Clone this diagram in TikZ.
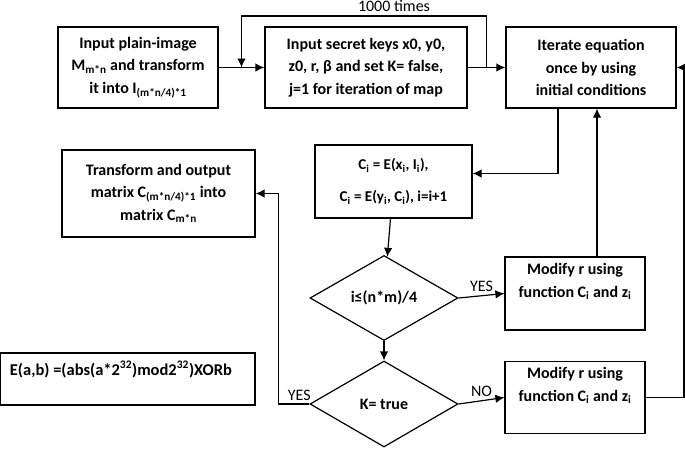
\documentclass[tikz,border=0pt]{standalone}
\usepackage{fontspec}
\setmainfont{Carlito}
\usepackage{tikz}
\usetikzlibrary{calc,arrows.meta,shapes.geometric}

\begin{document}
\begin{tikzpicture}[x=1pt,y=-1pt,
  procbox/.style={draw,line width=1.2pt,align=center,inner sep=2pt,
    font=\fontsize{16}{22.5}\selectfont\bfseries},
  decision/.style={draw,diamond,line width=1.2pt,inner sep=0pt,align=center,
    font=\fontsize{16}{20}\selectfont\bfseries},
  flowline/.style={line width=1.2pt,-{Latex[length=9pt,width=8.5pt]}},
  tag/.style={font=\fontsize{16}{18}\selectfont}]
\useasboundingbox (0,0) rectangle (685,448);
% top row
\node[procbox,minimum width=160pt,minimum height=81pt] (plain) at (138,67.5)
  {Input plain-image\\ M\textsubscript{m*n} and transform\\ it into I\textsubscript{(m*n/4)*1}};
\node[procbox,minimum width=202pt,minimum height=81pt] (keys) at (366,67.5)
  {Input secret keys x0, y0,\\ z0, r, β and set K= false,\\ j=1 for iteration of map};
\node[procbox,minimum width=170pt,minimum height=81pt] (iter) at (591,67.5)
  {Iterate equation\\ once by using\\ initial conditions};
% middle
\node[procbox,minimum width=157pt,minimum height=73pt,
  font=\fontsize{15}{18}\selectfont\bfseries] (enc) at (393.5,181.5)
  {C\textsubscript{i} = E(x\textsubscript{i}, I\textsubscript{i}),\\[14pt]
   C\textsubscript{i} = E(y\textsubscript{i}, C\textsubscript{i}), i=i+1};
\node[procbox,minimum width=193pt,minimum height=87pt] (out) at (158.5,193.5)
  {Transform and output\\ matrix C\textsubscript{(m*n/4)*1} into\\ matrix C\textsubscript{m*n}};
\node[decision,minimum width=148pt,minimum height=85pt,
  font=\fontsize{16}{18}\selectfont\bfseries] (cond) at (384,298) {i≤(n*m)/4};
\node[decision,minimum width=148pt,minimum height=86pt] (kchk) at (384,404) {K= true};
\node[procbox,minimum width=140pt,minimum height=73pt] (modA) at (575,293.5)
  {Modify r using\\ function C\textsubscript{i} and z\textsubscript{i}\\[4pt]};
\node[procbox,minimum width=140pt,minimum height=72pt] (modB) at (575,397.5)
  {Modify r using\\ function C\textsubscript{i} and z\textsubscript{i}\\[4pt]};
\node[draw,line width=1.2pt,minimum width=255pt,minimum height=52pt] (efun) at (127.5,379) {};
\node[anchor=west,font=\fontsize{16.5}{18}\selectfont\bfseries]
  at ($(efun.north west)+(7,17)$) {E(a,b) =(abs(a*2\textsuperscript{32})mod2\textsuperscript{32})XORb};

% connectors
\draw[flowline] (plain) -- (keys);
\draw[flowline] (keys) -- (iter);
\coordinate (loopA) at ($(keys.east)!0.5!(iter.west)$);
\coordinate (loopB) at ($(plain.east)!0.5!(keys.west)$);
\draw[flowline] (loopA) -- (loopA |- 0,16) -| (loopB);
\node[tag] at (394,6) {1000 times};
\draw[flowline] ([xshift=-33pt]iter.south) |- ([yshift=8pt]enc.east);
\draw[flowline] (enc) -- (cond);
\draw[flowline] (cond) -- (kchk);
\draw[flowline] (cond.east) -- node[tag,above] {YES} (modA.west);
\draw[flowline] (kchk.east) -- node[tag,above] {NO} (modB.west);
\draw[flowline] ([xshift=22pt]modA.north) -- ([xshift=22pt]modA.north |- iter.south);
\coordinate (rside) at (684,0);
\draw[flowline] (modB.east) -- (modB.east -| rside) |- (iter.east);
\draw[flowline] (kchk.west) -- ++(-31,0) coordinate (ybend) |- (out.east);
\node[tag,anchor=south west] at ($(ybend)+(6,0)$) {YES};
\end{tikzpicture}
\end{document}
